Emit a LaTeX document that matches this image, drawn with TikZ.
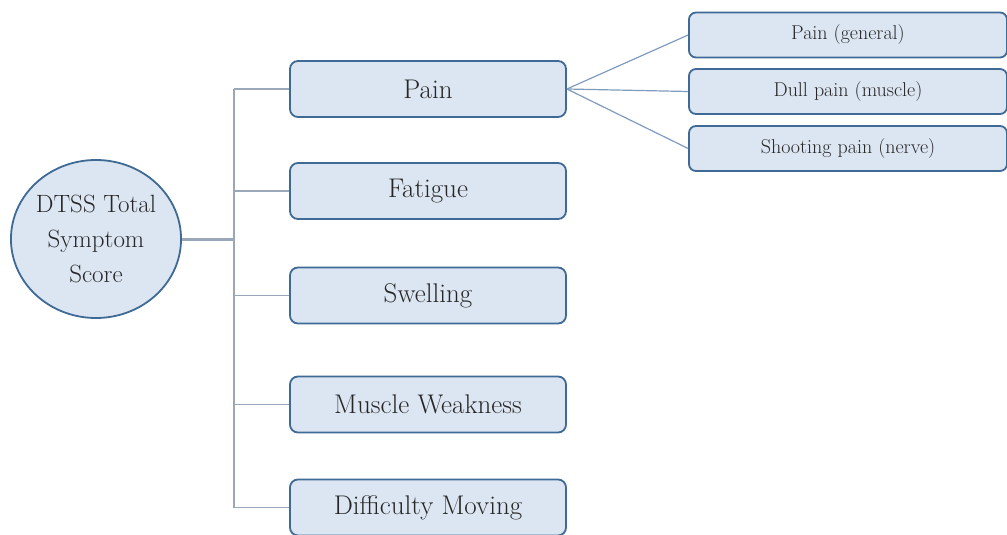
\documentclass[tikz,border=0pt]{standalone}
\usetikzlibrary{shapes.geometric}
\definecolor{boxfill}{HTML}{DCE6F2}
\definecolor{boxline}{HTML}{3F6A95}
\definecolor{conn}{HTML}{9AA7B8}
\definecolor{subconn}{HTML}{7F9CBE}
\definecolor{txt}{HTML}{262626}
\tikzset{
  mainbox/.style={draw=boxline, line width=1.8pt, fill=boxfill, rounded corners=8pt,
    minimum width=276pt, minimum height=56pt, inner sep=0pt, text=txt,
    font=\fontsize{27}{32}\selectfont},
  subbox/.style={draw=boxline, line width=1.8pt, fill=boxfill, rounded corners=7pt,
    minimum width=318pt, minimum height=45pt, inner sep=0pt, text=txt,
    font=\fontsize{20}{24}\selectfont},
  rootnode/.style={ellipse, draw=boxline, line width=1.8pt, fill=boxfill,
    minimum width=166pt, minimum height=158pt, inner sep=0pt, align=center, text=txt,
    font=\fontsize{25}{35}\selectfont},
  trunk/.style={draw=conn, line width=1.6pt},
  trunkthick/.style={draw=conn, line width=3pt},
  subline/.style={draw=subconn, line width=1.2pt}
}
\begin{document}
\begin{tikzpicture}[x=1pt,y=-1pt]
\useasboundingbox (0,0) rectangle (1007,535);
\fill[white] (0,0) rectangle (1007,535);
\node[rootnode] (root) at (96,239) {DTSS Total\\Symptom\\Score};
\node[mainbox] (pain) at (428,89) {Pain};
\node[mainbox] (fatigue) at (428,191) {Fatigue};
\node[mainbox] (swelling) at (428,295.5) {Swelling};
\node[mainbox] (weak) at (428,404.5) {Muscle Weakness};
\node[mainbox] (moving) at (428,507.5) {Difficulty Moving};
\node[subbox] (s1) at (848,35) {Pain (general)};
\node[subbox] (s2) at (848,91.5) {Dull pain (muscle)};
\node[subbox] (s3) at (848,148.5) {Shooting pain (nerve)};
\coordinate (j0) at (234,239);
\coordinate (j1) at (234,89);
\coordinate (j2) at (234,191);
\coordinate (j3) at (234,295.5);
\coordinate (j4) at (234,404.5);
\coordinate (j5) at (234,507.5);
\draw[trunkthick] (root.east) -- (j0);
\draw[trunk] (j1) -- (j5);
\draw[trunk] (j1) -- (pain.west);
\draw[trunk] (j2) -- (fatigue.west);
\draw[trunk] (j3) -- (swelling.west);
\draw[trunk] (j4) -- (weak.west);
\draw[trunk] (j5) -- (moving.west);
\draw[subline] (pain.east) -- (s1.west);
\draw[subline] (pain.east) -- (s2.west);
\draw[subline] (pain.east) -- (s3.west);
\end{tikzpicture}
\end{document}
